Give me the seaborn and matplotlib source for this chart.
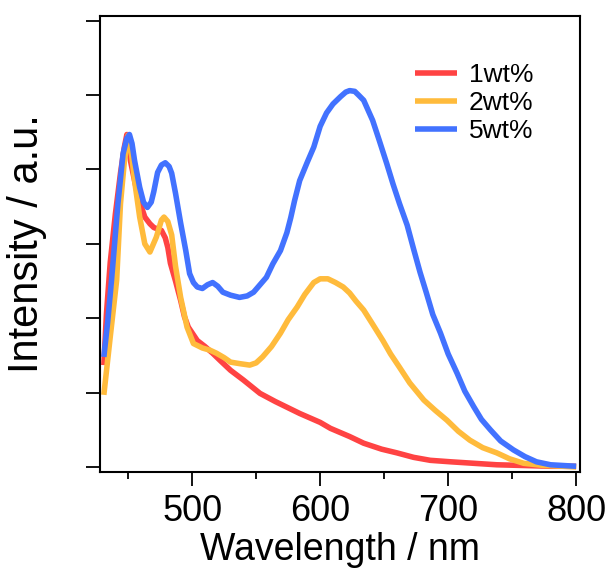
import numpy as np
import pandas as pd
import matplotlib
matplotlib.use("Agg")
import matplotlib.pyplot as plt
from matplotlib.ticker import MultipleLocator
import seaborn as sns

# ---- data ----
series_names = ["1wt%", "2wt%", "5wt%"]

wl_1 = [431, 433, 436, 440, 444, 447, 449, 452, 455, 458, 463, 467, 470, 476, 479, 481, 483,
        487, 491, 494, 497, 504, 510, 516, 522, 530, 540, 553, 565, 584, 600, 608, 623,
        634, 648, 660, 673, 686, 702, 720, 738, 760, 780, 800]
int_1 = [1.37, 2.05, 2.75, 3.40, 3.95, 4.30, 4.47, 4.10, 3.85, 3.62, 3.36, 3.27, 3.22, 3.18, 3.08, 2.95, 2.74,
         2.50, 2.24, 2.02, 1.88, 1.70, 1.62, 1.53, 1.43, 1.30, 1.17, 0.99, 0.88, 0.72, 0.60, 0.52, 0.41,
         0.32, 0.24, 0.19, 0.13, 0.09, 0.07, 0.05, 0.03, 0.02, 0.01, 0.01]

wl_2 = [431, 436, 441, 444, 447, 450, 452, 455, 459, 463, 467, 472, 476, 478, 481, 484,
        487, 491, 496, 501, 508, 514, 519, 525, 530, 537, 545, 550, 555, 562, 569, 575,
        582, 588, 595, 600, 606, 612, 618, 623, 628, 634, 641, 649, 655, 662, 670, 681,
        690, 699, 708, 717, 727, 738, 748, 759, 775, 790, 800]
int_2 = [0.97, 1.75, 2.51, 3.54, 4.10, 4.46, 4.30, 3.85, 3.36, 3.00, 2.89, 3.09, 3.32, 3.36, 3.30, 3.12,
         2.70, 2.28, 1.88, 1.66, 1.60, 1.57, 1.53, 1.47, 1.41, 1.39, 1.37, 1.40, 1.48, 1.62, 1.80, 1.98,
         2.15, 2.32, 2.48, 2.53, 2.53, 2.48, 2.42, 2.34, 2.23, 2.11, 1.92, 1.70, 1.52, 1.34, 1.13, 0.90,
         0.76, 0.63, 0.48, 0.36, 0.26, 0.19, 0.11, 0.05, 0.02, 0.01, 0.00]

wl_5 = [431, 434, 437, 442, 446, 449, 451, 453, 455, 459, 462, 465, 468, 470, 473, 476,
        479, 482, 484, 487, 491, 495, 498, 501, 504, 508, 512, 516, 520, 524, 530, 537,
        543, 548, 553, 558, 563, 569, 574, 577, 580, 584, 590, 595, 600, 605, 610, 616,
        620, 623, 627, 630, 634, 641, 646, 652, 657, 662, 668, 673, 678, 683, 688, 694,
        700, 707, 713, 720, 726, 733, 741, 751, 760, 769, 780, 790, 800]
int_5 = [1.48, 1.95, 2.51, 3.54, 4.21, 4.42, 4.47, 4.35, 4.12, 3.76, 3.56, 3.49, 3.56, 3.70, 3.96, 4.06,
         4.09, 4.04, 3.95, 3.68, 3.28, 2.91, 2.60, 2.48, 2.42, 2.40, 2.45, 2.48, 2.43, 2.35, 2.31, 2.28,
         2.30, 2.35, 2.45, 2.55, 2.73, 2.91, 3.15, 3.35, 3.58, 3.85, 4.10, 4.30, 4.58, 4.76, 4.88, 4.98,
         5.04, 5.06, 5.05, 5.00, 4.93, 4.66, 4.40, 4.08, 3.80, 3.54, 3.25, 2.93, 2.62, 2.34, 2.05, 1.80,
         1.52, 1.26, 1.02, 0.81, 0.64, 0.50, 0.35, 0.23, 0.14, 0.07, 0.03, 0.02, 0.01]

colors = ["#FF4343", "#FFBB3C", "#4272FF"]

df = pd.concat([
    pd.DataFrame({"Wavelength": wl_1, "Intensity": int_1, "Sample": series_names[0]}),
    pd.DataFrame({"Wavelength": wl_2, "Intensity": int_2, "Sample": series_names[1]}),
    pd.DataFrame({"Wavelength": wl_5, "Intensity": int_5, "Sample": series_names[2]}),
], ignore_index=True)

sns.set_theme(style="white")
plt.rcParams["font.family"] = ["Liberation Sans", "DejaVu Sans"]
plt.rcParams["text.color"] = "black"
plt.rcParams["axes.labelcolor"] = "black"
plt.rcParams["xtick.color"] = "black"
plt.rcParams["ytick.color"] = "black"

fig = plt.figure(figsize=(6.11, 5.75), dpi=100)
ax = fig.add_axes([100 / 611, 1 - 472 / 575, 480 / 611, 456 / 575])

sns.lineplot(data=df, x="Wavelength", y="Intensity", hue="Sample",
             hue_order=series_names, palette=colors, linewidth=4.0,
             sort=False, estimator=None, ax=ax)
for ln in ax.get_lines():
    ln.set_solid_joinstyle("round")
    ln.set_solid_capstyle("butt")

ax.set_xlim(428, 803)
ax.set_ylim(-0.067, 6.063)
ax.xaxis.set_major_locator(MultipleLocator(100))
ax.xaxis.set_minor_locator(MultipleLocator(50))
ax.set_yticks(np.arange(0, 7, 1))
ax.set_yticklabels([])

for s in ax.spines.values():
    s.set_linewidth(1.5)
    s.set_color("black")

ax.tick_params(axis="x", which="major", direction="out", length=10, width=1.3,
               labelsize=26, pad=6, bottom=True, top=False, colors="black")
ax.tick_params(axis="x", which="minor", direction="out", length=5, width=1.3,
               bottom=True, top=False, colors="black")
ax.tick_params(axis="y", which="major", direction="out", length=10, width=1.3,
               left=True, right=False, colors="black")

ax.set_xlabel("Wavelength / nm", fontsize=27, labelpad=2, color="black")
ax.set_ylabel("Intensity / a.u.", fontsize=30, labelpad=25, color="black")

leg = ax.legend(loc="upper left", bbox_to_anchor=(415 / 611, 1 - 63 / 575),
                bbox_transform=fig.transFigure, frameon=False, fontsize=19,
                handlelength=1.6, handletextpad=0.45, labelspacing=0.15,
                borderpad=0, borderaxespad=0, title=None)
for line in leg.get_lines():
    line.set_linewidth(4.0)
for t in leg.get_texts():
    t.set_color("black")

fig.savefig("out.png", dpi=100)
